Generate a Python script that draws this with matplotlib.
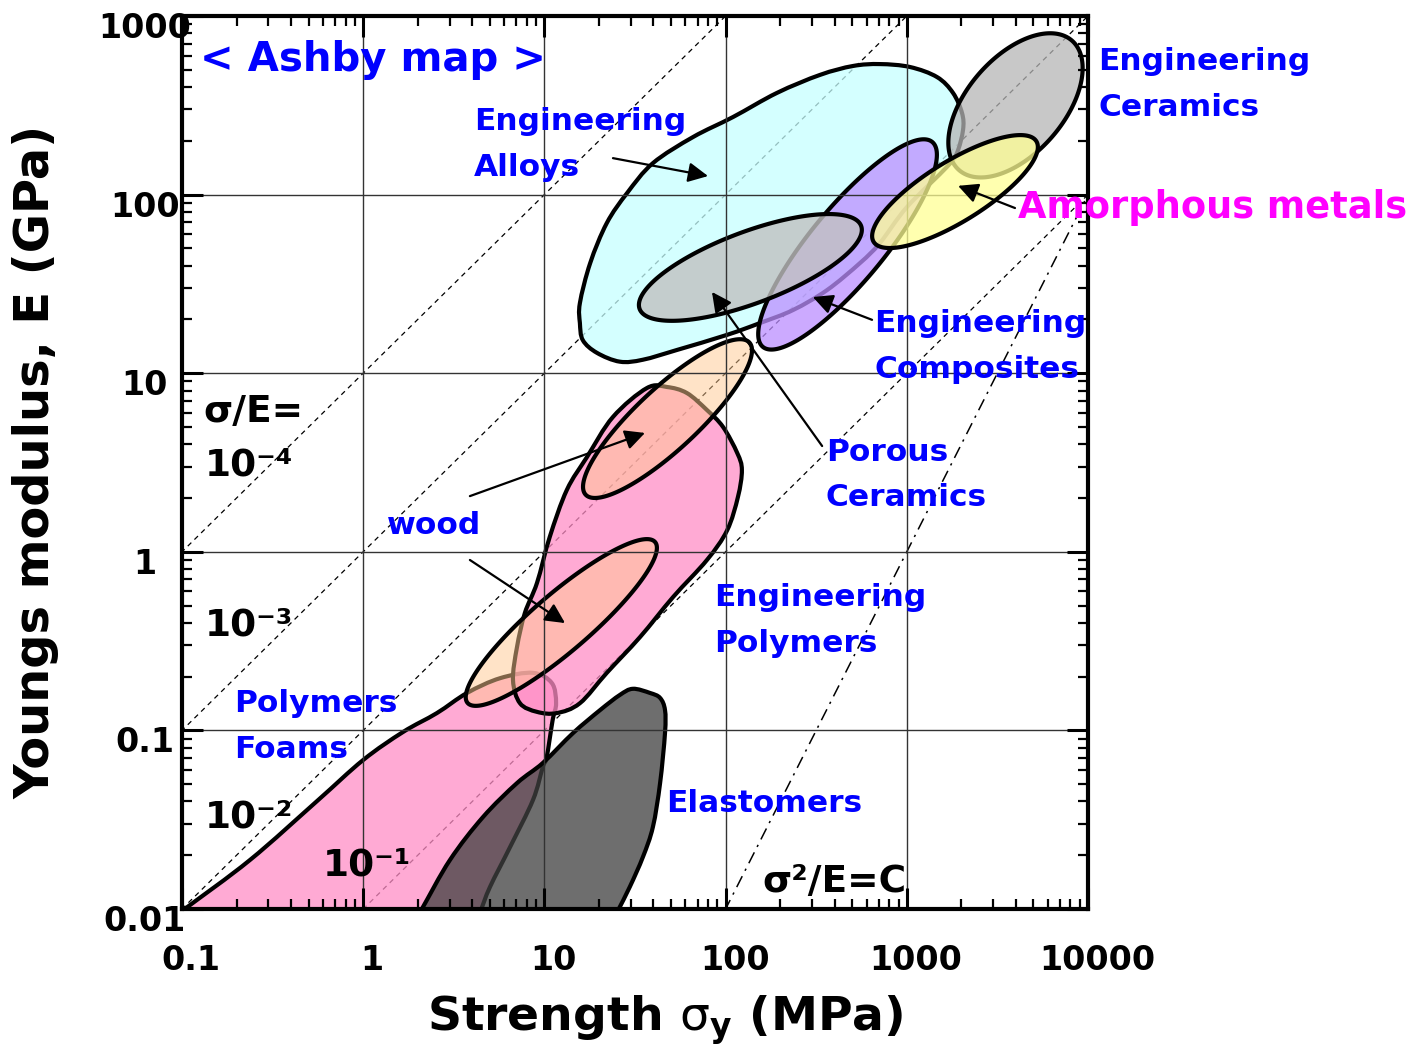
import numpy as np
import matplotlib
matplotlib.use("Agg")
import matplotlib.pyplot as plt
import matplotlib.transforms as mtransforms
from matplotlib.path import Path
from matplotlib.patches import PathPatch, Polygon
from matplotlib.ticker import NullFormatter

# Ashby map: yield strength (MPa) vs Young's modulus (GPa)

X_TICKS = [0.1, 1, 10, 100, 1000, 10000]
X_TICK_LABELS = ["0.1", "1", "10", "100", "1000", "10000"]
Y_TICKS = [0.01, 0.1, 1, 10, 100, 1000]
Y_TICK_LABELS = ["0.01", "0.1", "1", "10", "100", "1000"]

# guide lines sigma/E = const (sigma in MPa, E in GPa -> E = sigma / (1000 r))
RATIOS = [1e-4, 1e-3, 1e-2, 1e-1]
SIG2_E_CONST = 1e6   # sigma^2 / E = C  line

# free-form bubbles, outline points (sigma MPa, E GPa)
ALLOY_SIGMA = [15.7, 15.7, 17.9, 22.1, 28.6, 39.7, 66.1, 110, 192, 332, 505, 711, 1042,
               1469, 1799, 2018, 2043, 1891, 1667, 1002, 711, 552, 363, 236, 155, 102,
               54.0, 35.0, 26.1, 19.5, 16.3]
ALLOY_E = [19.1, 24.7, 41.4, 69.3, 102, 150, 210, 272, 371, 468, 525, 538, 518,
           455, 371, 286, 230, 171, 143, 85.2, 53.6, 41.4, 29.2, 22.6, 19.1, 16.4,
           13.5, 11.9, 11.6, 13.0, 15.3]

POLYMER_SIGMA = [36.8, 23.9, 17.2, 13.3, 10.7, 9.1, 7.8, 7.06, 6.71, 7.33, 9.1, 11.7,
                 15.7, 22.1, 33.7, 51.3, 78.9, 102, 117, 123, 116, 96.8, 78.9, 61.2, 47.5]
POLYMER_E = [8.26, 5.69, 3.40, 2.22, 1.21, 0.669, 0.454, 0.293, 0.191, 0.142, 0.127, 0.125,
             0.142, 0.210, 0.333, 0.558, 0.90, 1.32, 2.03, 2.87, 3.57, 5.0, 6.22, 7.74, 8.37]

FOAM_SIGMA = [0.098, 0.237, 0.556, 1.0, 1.66, 2.55, 3.74, 5.69, 8.65, 11.0, 11.6, 11.1,
              10.3, 9.8, 8.65, 6.46, 5.01, 4.42]
FOAM_E = [0.0096, 0.0188, 0.0402, 0.0683, 0.098, 0.125, 0.162, 0.196, 0.210, 0.184, 0.142,
          0.114, 0.071, 0.0624, 0.0408, 0.0222, 0.0133, 0.0096]

ELASTOMER_SIGMA = [2.06, 3.01, 4.58, 7.06, 9.8, 14.4, 20.3, 26.1, 30.8, 38.3, 43.5, 46.3,
                   46.3, 43.5, 39.7, 35.0, 29.6, 25.2]
ELASTOMER_E = [0.0096, 0.0188, 0.0327, 0.0507, 0.0657, 0.0967, 0.130, 0.158, 0.171, 0.162,
               0.152, 0.130, 0.0967, 0.0507, 0.0288, 0.0196, 0.0133, 0.0096]

# elliptic bubbles: centre (sigma, E), half axes in decades, tilt (deg)
CERAMIC_ELL = [(3980, 316), 0.478, 0.268, 49.7]
AMORPHOUS_ELL = [(1845, 104), 0.530, 0.168, 32.2]
COMPOSITE_ELL = [(471, 52.6), 0.740, 0.205, 50.9]
POROUS_ELL = [(137, 39.1), 0.654, 0.200, 20.9]
WOOD_UPPER_ELL = [(47.8, 5.57), 0.621, 0.171, 43.4]
WOOD_LOWER_ELL = [(12.4, 0.402), 0.686, 0.160, 41.1]

# arrows: (tail, head)
ARROWS = [
    ((23.9, 160), (80.0, 127)),     # alloys
    ((3954, 84.1), (1919, 112)),    # amorphous metals
    ((643, 19.9), (303, 26.7)),     # composites
    ((341, 3.91), (84.1, 28.5)),    # porous ceramics
    ((3.88, 2.05), (35.9, 4.63)),   # wood (upper)
    ((3.88, 0.90), (13.0, 0.399)),  # wood (lower)
]

W, H = 1421, 1053
BLUE = "#0000FF"
MAGENTA = "#FF00FF"

plt.rcParams["font.family"] = ["DejaVu Sans"]
plt.rcParams["mathtext.fontset"] = "dejavusans"


def smooth_outline(sig, e, straight=()):
    # closed Catmull-Rom curve through the outline points, built in log space;
    # segments listed in `straight` (i -> i+1) are drawn as plain lines
    p = np.column_stack([np.log10(sig), np.log10(e)])
    n = len(p)
    verts = [p[0]]
    codes = [Path.MOVETO]
    for i in range(n):
        p0, p1, p2, p3 = p[i - 1], p[i], p[(i + 1) % n], p[(i + 2) % n]
        if i in straight:
            verts.append(p2)
            codes.append(Path.LINETO)
            continue
        if (i - 1) % n in straight:
            c1 = p1 + (p2 - p1) / 3
        else:
            c1 = p1 + (p2 - p0) / 6
        if (i + 1) % n in straight:
            c2 = p2 - (p2 - p1) / 3
        else:
            c2 = p2 - (p3 - p1) / 6
        verts += [c1, c2, p2]
        codes += [Path.CURVE4] * 3
    verts.append(p[0])
    codes.append(Path.CLOSEPOLY)
    return Path(10 ** np.array(verts), codes)


def ellipse_points(ell, n=240):
    (cs, ce), a, b, ang = ell
    cx, cy = np.log10(cs), np.log10(ce)
    t = np.linspace(0, 2 * np.pi, n)
    th = np.radians(ang)
    x = cx + a * np.cos(t) * np.cos(th) - b * np.sin(t) * np.sin(th)
    y = cy + a * np.cos(t) * np.sin(th) + b * np.sin(t) * np.cos(th)
    return np.column_stack([10 ** x, 10 ** y])


fig = plt.figure(figsize=(W / 100, H / 100), dpi=100)
ax = fig.add_axes([182 / W, 1 - 909 / H, 906 / W, 893 / H])
ax.set_xscale("log")
ax.set_yscale("log")
ax.set_xlim(0.1, 10000)
ax.set_ylim(0.01, 1000)

# guide lines
xs = np.array([0.01, 1e5])
for r in RATIOS:
    ax.plot(xs, xs / (1000 * r), color="k", lw=0.9, ls=(0, (4, 3.5)), zorder=0.8)
ax.plot(xs, xs ** 2 / SIG2_E_CONST, color="k", lw=1.1, ls=(0, (8, 4, 1.5, 4)), zorder=0.8)

edge = dict(edgecolor="k", lw=3.0, joinstyle="round")

ax.add_patch(PathPatch(smooth_outline(ALLOY_SIGMA, ALLOY_E),
                       facecolor=(198/255, 1, 1, 0.75), zorder=1, **edge))
ax.add_patch(Polygon(ellipse_points(CERAMIC_ELL), closed=True,
                     facecolor=(182/255, 182/255, 182/255, 0.75), zorder=1, **edge))
ax.add_patch(Polygon(ellipse_points(COMPOSITE_ELL), closed=True,
                     facecolor=(188/255, 142/255, 1, 0.75), zorder=1, **edge))
ax.add_patch(Polygon(ellipse_points(POROUS_ELL), closed=True,
                     facecolor=(193/255, 193/255, 193/255, 0.8), zorder=1, **edge))
ax.add_patch(Polygon(ellipse_points(AMORPHOUS_ELL), closed=True,
                     facecolor=(1, 1, 148/255, 0.75), zorder=2, **edge))

ax.add_patch(PathPatch(smooth_outline(FOAM_SIGMA, FOAM_E, straight={len(FOAM_E) - 1}),
                       facecolor=(1, 142/255, 198/255, 0.75), zorder=1, **edge))
ax.add_patch(PathPatch(smooth_outline(POLYMER_SIGMA, POLYMER_E),
                       facecolor=(1, 142/255, 198/255, 0.75), zorder=1, **edge))
for ell in (WOOD_UPPER_ELL, WOOD_LOWER_ELL):
    ax.add_patch(Polygon(ellipse_points(ell), closed=True,
                         facecolor=(1, 201/255, 145/255, 0.5), zorder=1, **edge))
ax.add_patch(PathPatch(smooth_outline(ELASTOMER_SIGMA, ELASTOMER_E,
                                      straight={len(ELASTOMER_E) - 1}),
                       facecolor=(64/255, 64/255, 64/255, 0.76), zorder=1, **edge))

for tail, head in ARROWS:
    ax.annotate("", xy=head, xytext=tail, zorder=4,
                arrowprops=dict(arrowstyle="-|>", color="k", lw=1.6,
                                mutation_scale=30, shrinkA=0, shrinkB=0))

# axes styling
ax.set_axisbelow("line")
ax.grid(True, which="major", color="#333333", lw=1.0)
ax.set_xticks(X_TICKS)
ax.set_xticklabels(X_TICK_LABELS, fontsize=24, fontweight="bold")
ax.set_yticks(Y_TICKS)
ax.set_yticklabels(Y_TICK_LABELS, fontsize=24, fontweight="bold")
ax.xaxis.set_minor_formatter(NullFormatter())
ax.yaxis.set_minor_formatter(NullFormatter())
ax.tick_params(which="both", direction="in", top=True, right=True)
ax.tick_params(which="major", length=15, width=2.2)
ax.tick_params(which="minor", length=7, width=1.6)
ax.tick_params(axis="x", which="major", pad=25)
ax.tick_params(axis="y", which="major", pad=-2)
for sp in ax.spines.values():
    sp.set_linewidth(3.0)

dx = mtransforms.ScaledTranslation(9 / 100, 0, fig.dpi_scale_trans)
dy = mtransforms.ScaledTranslation(-40 / 100, -9 / 100, fig.dpi_scale_trans)
for lab in ax.get_xticklabels():
    lab.set_transform(lab.get_transform() + dx)
for lab in ax.get_yticklabels():
    lab.set_horizontalalignment("center")
    lab.set_transform(lab.get_transform() + dy)


def at(x, y):
    return x / W, 1 - y / H


def label(lines, x, y, color=BLUE, size=22.5, step=46):
    for i, line in enumerate(lines):
        fig.text(*at(x, y + i * step), line, color=color, fontsize=size,
                 fontweight="bold", ha="left", va="center", zorder=5)


fig.text(*at(665, 1020), r"Strength $\mathrm{\sigma}_{\mathbf{y}}$ (MPa)",
         fontsize=34, fontweight="bold", ha="center", va="center")
fig.text(*at(36, 462), "Youngs modulus, E (GPa)", fontsize=34.5, fontweight="bold",
         ha="center", va="center", rotation=90)

label(["< Ashby map >"], 200, 60, size=29)
label(["Engineering", "Alloys"], 474, 121)
label(["Engineering", "Ceramics"], 1098, 62)
label(["Amorphous metals"], 1018, 208, color=MAGENTA, size=26.5)
label(["Engineering", "Composites"], 874, 324)
label(["Porous", "Ceramics"], 826, 452)
label(["wood"], 387, 525)
label(["Engineering", "Polymers"], 714, 597)
label(["Polymers", "Foams"], 234, 704)
label(["Elastomers"], 666, 804)

label(["σ/E="], 203, 412, color="k", size=27)
label(["10⁻⁴"], 205, 465, color="k", size=27)
label(["10⁻³"], 205, 626, color="k", size=27)
label(["10⁻²"], 205, 817, color="k", size=27)
label(["10⁻¹"], 323, 866, color="k", size=27)
label(["σ²/E=C"], 762, 882, color="k", size=27)

fig.savefig("out.png", dpi=100)
